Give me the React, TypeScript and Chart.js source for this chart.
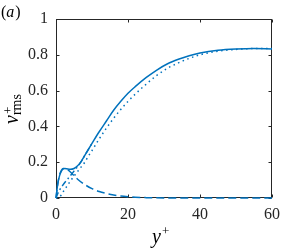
import React, { useEffect, useRef } from "react";
import { Chart, registerables } from "chart.js";

Chart.register(...registerables);

const solidX = [0, 0.5, 1, 1.5, 2, 2.5, 3, 4, 5, 6, 7, 8, 9, 10, 12, 14, 16, 18, 20, 22, 25, 28, 31, 34, 37, 40, 45, 50, 55, 60];
const solidY = [0, 0.08, 0.125, 0.15, 0.162, 0.165, 0.163, 0.16, 0.165, 0.18, 0.205, 0.238, 0.272, 0.305, 0.37, 0.43, 0.49, 0.54, 0.585, 0.622, 0.672, 0.715, 0.75, 0.775, 0.795, 0.81, 0.825, 0.832, 0.835, 0.833];

const dottedX = [0, 1, 2, 3, 4, 5, 6, 7, 8, 9, 10, 12, 14, 16, 18, 20, 22, 25, 28, 31, 34, 37, 40, 45, 50, 55, 60];
const dottedY = [0, 0.005, 0.035, 0.065, 0.095, 0.122, 0.148, 0.174, 0.2, 0.234, 0.265, 0.33, 0.39, 0.445, 0.495, 0.54, 0.58, 0.635, 0.685, 0.725, 0.755, 0.78, 0.8, 0.82, 0.83, 0.835, 0.835];

const dashedX = [0, 0.5, 1, 1.5, 2, 3, 4, 5, 6, 8, 10, 12, 14, 16, 18, 20, 22, 25, 30, 40, 50, 60];
const dashedY = [0, 0.08, 0.13, 0.155, 0.165, 0.16, 0.145, 0.125, 0.105, 0.075, 0.052, 0.036, 0.025, 0.017, 0.011, 0.007, 0.004, 0.002, 0.0005, 0, 0, 0];

const dashDotX = [0, 0.5, 1, 2, 3, 4, 5, 6, 7, 8, 9, 10];
const dashDotY = [0, 0.025, 0.045, 0.075, 0.1, 0.125, 0.15, 0.175, 0.203, 0.238, 0.272, 0.305];

const xTicks = [0, 20, 40, 60];
const yTickLabels = ["0", "0.2", "0.4", "0.6", "0.8", "1"];

const BLUE = "#0072BD";
const AXIS = "#262626";
const SERIF = '"Liberation Serif", "DejaVu Serif", serif';

function pts(xs: number[], ys: number[]) {
  return xs.map((x, i) => ({ x, y: ys[i] }));
}

const boxPlugin = {
  id: "boxPlugin",
  beforeDatasetsDraw(chart: any) {
    const { ctx, chartArea: a, scales } = chart;
    ctx.save();
    ctx.strokeStyle = AXIS;
    ctx.lineWidth = 1;
    const L = Math.round(a.left) + 0.5;
    const R = Math.round(a.right) - 0.5;
    const T = Math.round(a.top) + 0.5;
    const B = Math.round(a.bottom) - 0.5;
    ctx.strokeRect(L, T, R - L, B - T);
    const tl = 3;
    ctx.beginPath();
    scales.x.ticks.forEach((t: any) => {
      const px = Math.round(scales.x.getPixelForValue(t.value)) + 0.5;
      ctx.moveTo(px, B);
      ctx.lineTo(px, B - tl);
      ctx.moveTo(px, T);
      ctx.lineTo(px, T + tl);
    });
    scales.y.ticks.forEach((t: any) => {
      const py = Math.round(scales.y.getPixelForValue(t.value)) + 0.5;
      ctx.moveTo(L, py);
      ctx.lineTo(L + tl, py);
      ctx.moveTo(R, py);
      ctx.lineTo(R - tl, py);
    });
    ctx.stroke();
    ctx.restore();
  },
  afterDraw(chart: any) {
    const { ctx } = chart;
    ctx.save();
    ctx.fillStyle = "#000";
    ctx.textBaseline = "alphabetic";
    // (a)
    ctx.font = "16px " + SERIF;
    ctx.fillText("(", 1, 17);
    let x = 1 + ctx.measureText("(").width;
    ctx.font = "italic 16px " + SERIF;
    ctx.fillText("a", x, 17);
    x += ctx.measureText("a").width + 1;
    ctx.font = "16px " + SERIF;
    ctx.fillText(")", x, 17);

    // x label y+
    ctx.font = "italic 20px " + SERIF;
    const wy = ctx.measureText("y").width;
    ctx.fillText("y", 152, 243);
    ctx.font = "13px " + SERIF;
    ctx.fillText("+", 152 + wy + 1, 235);

    // y label v+_rms
    ctx.translate(18, 124);
    ctx.rotate(-Math.PI / 2);
    ctx.font = "italic 20px " + SERIF;
    const wv = ctx.measureText("v").width;
    ctx.fillText("v", 0, 0);
    ctx.font = "13px " + SERIF;
    ctx.fillText("+", wv + 1, -6);
    ctx.font = "14px " + SERIF;
    ctx.fillText("rms", wv, 3);
    ctx.restore();
  },
};

export default function App() {
  const ref = useRef<HTMLCanvasElement | null>(null);
  useEffect(() => {
    document.body.style.margin = "0";
    if (!ref.current) return;
    const common = {
      borderColor: BLUE,
      borderWidth: 1.5,
      pointRadius: 0,
      fill: false,
      cubicInterpolationMode: "monotone" as const,
      clip: 4,
    };
    const tickFont = { family: SERIF, size: 16 };
    const chart = new Chart(ref.current, {
      type: "scatter",
      data: {
        datasets: [
          { ...common, data: pts(dashedX, dashedY), showLine: true, borderDash: [8, 4] },
          { ...common, data: pts(dashDotX, dashDotY), showLine: true, borderDash: [6, 3, 1.5, 3] },
          { ...common, data: pts(dottedX, dottedY), showLine: true, borderDash: [1.5, 3.5] },
          { ...common, data: pts(solidX, solidY), showLine: true },
        ],
      },
      options: {
        animation: false,
        responsive: false,
        maintainAspectRatio: false,
        layout: { padding: { top: 19, right: 28, left: 0, bottom: 0 } },
        plugins: { legend: { display: false }, tooltip: { enabled: false } },
        scales: {
          x: {
            type: "linear",
            min: 0,
            max: 60,
            afterBuildTicks: (s: any) => {
              s.ticks = xTicks.map((v) => ({ value: v }));
            },
            ticks: {
              font: tickFont,
              color: AXIS,
              padding: 7,
              maxRotation: 0,
              callback: (v: any) => String(v),
            },
            grid: { display: false, drawTicks: false },
            border: { display: false },
            afterFit: (s: any) => {
              s.height = 53;
            },
          },
          y: {
            type: "linear",
            min: 0,
            max: 1,
            ticks: {
              stepSize: 0.2,
              font: tickFont,
              color: AXIS,
              padding: 8,
              callback: (_v: any, i: number) => yTickLabels[i],
            },
            grid: { display: false, drawTicks: false },
            border: { display: false },
            afterFit: (s: any) => {
              s.width = 56;
            },
          },
        },
      },
      plugins: [boxPlugin],
    });
    return () => chart.destroy();
  }, []);
  return <canvas ref={ref} width={300} height={251} style={{ display: "block" }} />;
}
